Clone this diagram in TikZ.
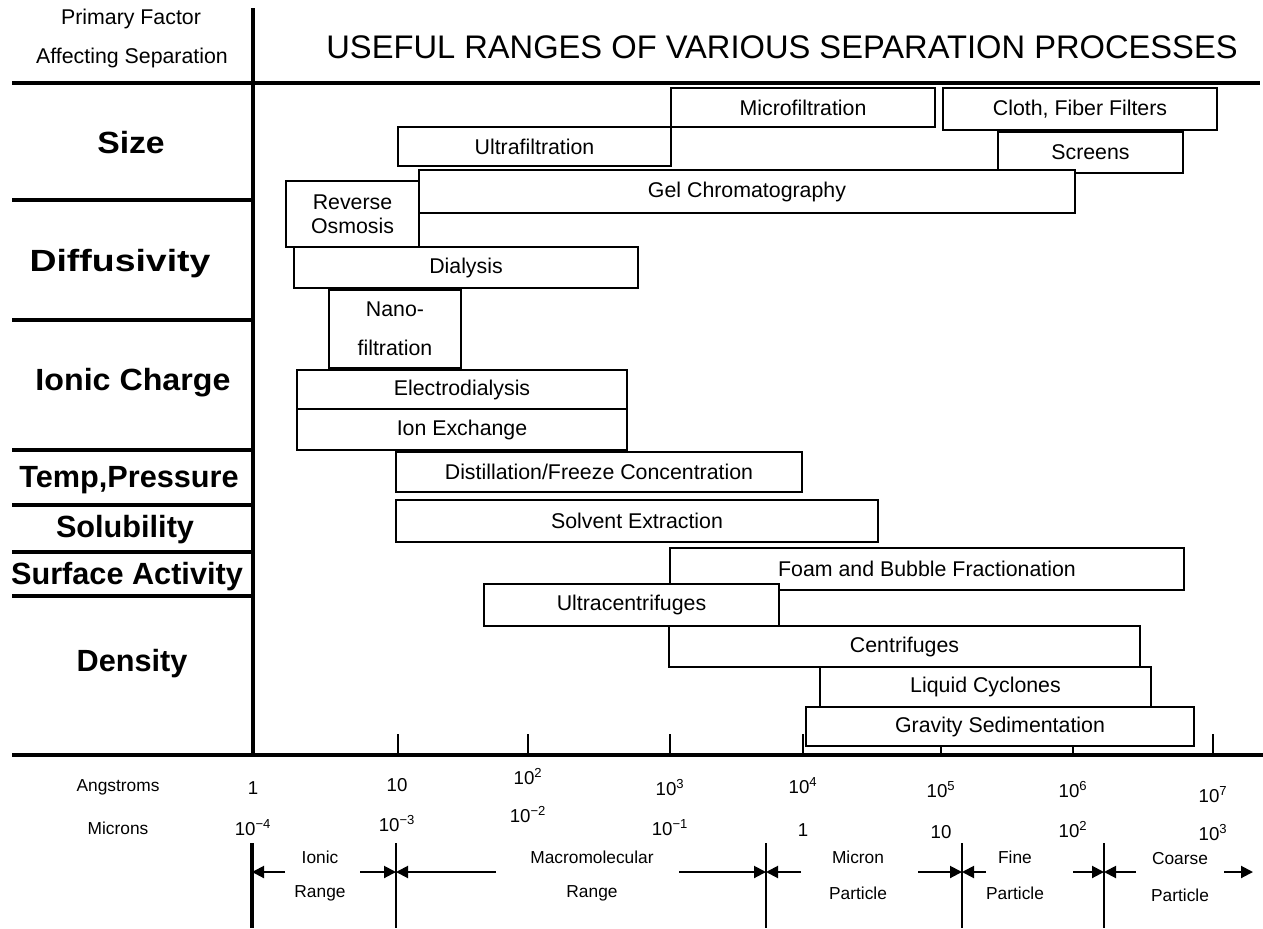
\documentclass[tikz,border=0pt]{standalone}
\usepackage{fontspec}
\setmainfont{Liberation Sans}
\usetikzlibrary{arrows.meta}
\newcommand{\pbox}[6]{%
  \node[pbox, minimum width={(#4-#2)*0.75pt}, minimum height={(#5-#3)*0.75pt}] (#1) at ({(#2+#4)/2},{(#3+#5)/2}) {#6};}
\begin{document}
\begin{tikzpicture}[x=0.75pt,y=-0.75pt,
  pbox/.style={draw, fill=white, line width=1pt, inner sep=0pt, outer sep=0pt, align=center, font=\fontsize{16}{18}\selectfont},
  factor/.style={font=\bfseries\fontsize{23}{26}\selectfont, inner sep=0pt},
  head/.style={font=\fontsize{16}{18}\selectfont, inner sep=0pt},
  title/.style={font=\fontsize{24.5}{28}\selectfont, inner sep=0pt},
  frameline/.style={line width=3pt},
  tickline/.style={line width=1.5pt},
  small/.style={font=\fontsize{13}{15}\selectfont, inner sep=0pt},
  num/.style={font=\fontsize{14}{16}\selectfont, inner sep=0pt, anchor=base},
  rng/.style={line width=1.5pt, -{Triangle[length=9pt,width=9pt]}},
]
\useasboundingbox (0,0) rectangle (1263,928);
% frame
\draw[frameline] (253,8) -- (253,757);
\draw[frameline] (12,83) -- (1260,83);
\draw[frameline] (12,755) -- (1263,755);
\foreach \y in {200,320,450,505,552,596} \draw[frameline] (12,\y) -- (253,\y);
\foreach \x in {398,528,670,803,1213} \draw[tickline] (\x,734) -- (\x,755);
\foreach \x in {941,1073} \draw[tickline] (\x,746) -- (\x,755);
% headings
\node[head] (h1) at (131,19) {Primary Factor};
\node[head] (h2) at (132,58) {Affecting Separation};
\node[title] (title) at (782,47) {USEFUL RANGES OF VARIOUS SEPARATION PROCESSES};
% factors
\node[factor] (fsize) at (131,143) {\scalebox{1.1}[1]{Size}};
\node[factor] (fdiff) at (120,264) {\scalebox{1.22}[1]{Diffusivity}};
\node[factor] (fion) at (133,383) {\scalebox{1.05}[1]{Ionic Charge}};
\node[factor] (ftemp) at (129,480) {Temp,Pressure};
\node[factor] (fsol) at (125,530) {Solubility};
\node[factor] (fsurf) at (127,577) {Surface Activity};
\node[factor] (fdens) at (132,664) {Density};
% process boxes
\pbox{micro}{671}{88}{935}{127}{Microfiltration}
\pbox{cloth}{943}{88}{1217}{130}{Cloth, Fiber Filters}
\pbox{ultra}{398}{127}{671}{166}{Ultrafiltration}
\pbox{screens}{998}{132}{1183}{173}{Screens}
\pbox{gel}{419}{170}{1075}{213}{Gel Chromatography}
\pbox{ro}{286}{181}{419}{247}{Reverse\\Osmosis}
\pbox{dial}{294}{247}{638}{288}{Dialysis}
\node[pbox, minimum width={(461-329)*0.75pt}, minimum height={(368-290)*0.75pt}, font=\fontsize{16}{29}\selectfont] (nano) at (395,329) {Nano-\\filtration};
\pbox{electro}{297}{370}{627}{409}{Electrodialysis}
\pbox{ionex}{297}{409}{627}{450}{Ion Exchange}
\pbox{dist}{396}{452}{802}{492}{Distillation/Freeze Concentration}
\pbox{solv}{396}{500}{878}{542}{Solvent Extraction}
\pbox{foam}{670}{548}{1184}{590}{Foam and Bubble Fractionation}
\pbox{ucent}{484}{584}{779}{626}{Ultracentrifuges}
\pbox{cent}{669}{626}{1140}{667}{Centrifuges}
\pbox{cyc}{820}{667}{1151}{707}{Liquid Cyclones}
\pbox{grav}{806}{707}{1194}{746}{Gravity Sedimentation}
% scales
\node[small] (ang) at (118,787) {Angstroms};
\node[small] (mic) at (118,828) {Microns};
\node[num] (a0) at (253,794) {1};
\node[num] (a1) at (397,791) {10};
\node[num] (a2) at (528,784) {10\textsuperscript{2}};
\node[num] (a3) at (670,795) {10\textsuperscript{3}};
\node[num] (a4) at (803,793) {10\textsuperscript{4}};
\node[num] (a5) at (941,797) {10\textsuperscript{5}};
\node[num] (a6) at (1073,797) {10\textsuperscript{6}};
\node[num] (a7) at (1213,802) {10\textsuperscript{7}};
\node[num] (m0) at (253,835) {10\textsuperscript{−4}};
\node[num] (m1) at (397,831) {10\textsuperscript{−3}};
\node[num] (m2) at (528,822) {10\textsuperscript{−2}};
\node[num] (m3) at (670,835) {10\textsuperscript{−1}};
\node[num] (m4) at (803,836) {1};
\node[num] (m5) at (941,838) {10};
\node[num] (m6) at (1073,837) {10\textsuperscript{2}};
\node[num] (m7) at (1213,840) {10\textsuperscript{3}};
% range dividers
\draw[line width=3pt] (252,843) -- (252,928);
\foreach \x in {396,766,962,1104} \draw[line width=1.5pt] (\x,843) -- (\x,928);
\coordinate (d0) at (252,872);
\coordinate (d1) at (396,872);
\coordinate (d2) at (766,872);
\coordinate (d3) at (962,872);
\coordinate (d4) at (1104,872);
\coordinate (t0) at (285,872);
\coordinate (t1) at (360,872);
\coordinate (t2) at (496,872);
\coordinate (t3) at (679,872);
\coordinate (t4) at (801,872);
\coordinate (t5) at (918,872);
\coordinate (t6) at (986,872);
\coordinate (t7) at (1073,872);
\coordinate (t8) at (1136,872);
\coordinate (t9) at (1224,872);
\coordinate (cend) at (1253,872);
\draw[rng] (t0) -- (d0);
\draw[rng] (t1) -- (d1);
\draw[rng] (t2) -- (d1);
\draw[rng] (t3) -- (d2);
\draw[rng] (t4) -- (d2);
\draw[rng] (t5) -- (d3);
\draw[rng] (t6) -- (d3);
\draw[rng] (t7) -- (d4);
\draw[rng] (t8) -- (d4);
\draw[rng] (t9) -- (cend);
\node[small] (r1a) at (320,857) {Ionic};
\node[small] (r1b) at (320,893) {Range};
\node[small] (r2a) at (592,857) {Macromolecular};
\node[small] (r2b) at (592,893) {Range};
\node[small] (r3a) at (858,857) {Micron};
\node[small] (r3b) at (858,893) {Particle};
\node[small] (r4a) at (1015,857) {Fine};
\node[small] (r4b) at (1015,893) {Particle};
\node[small] (r5a) at (1180,859) {Coarse};
\node[small] (r5b) at (1180,895) {Particle};
\end{tikzpicture}
\end{document}
